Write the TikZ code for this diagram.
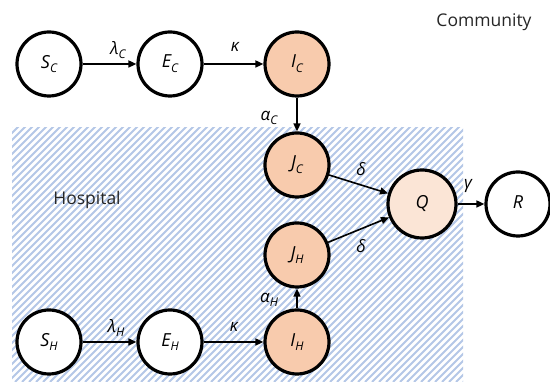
\documentclass[tikz,border=0pt]{standalone}
\usepackage{fontspec}
\setmainfont{Open Sans}
\usetikzlibrary{arrows.meta}
\definecolor{peach}{HTML}{F8CBAD}
\definecolor{qfill}{HTML}{FBE5D6}
\definecolor{hatch}{HTML}{B4C7E7}
\newcommand\sub[1]{\raisebox{-0.5ex}{\fontsize{12}{12}\selectfont\itshape #1}}
\newcommand\var[2]{{\fontsize{18}{18}\selectfont\itshape #1}\sub{#2}}
\tikzset{
  comp/.style={circle, draw=black, line width=3.2pt, minimum size=64pt, inner sep=0pt, fill=white, font=\fontsize{18}{18}\selectfont\itshape},
  inf/.style={comp, fill=peach},
  qst/.style={comp, fill=qfill, minimum size=68pt},
  flow/.style={line width=1.6pt, -{Triangle[length=8pt,width=7pt]}},
  lab/.style={font=\fontsize{17}{17}\selectfont\itshape, inner sep=0pt},
  region/.style={font=\fontsize{17.5}{17.5}\selectfont, text=black!85, inner sep=0pt}
}
\begin{document}
\begin{tikzpicture}[x=1pt,y=1pt]
\useasboundingbox (0,0) rectangle (550,382);
\fill[white] (0,0) rectangle (550,382);
\begin{scope}
  \clip (12,0) rectangle (463,254);
  \foreach \i in {-300,-293,...,480} {
    \draw[hatch, line width=1.8pt] (\i,0) -- ++(260,260);
  }
\end{scope}
\node[region] (community) at (484,360) {Community};
\node[region] (hospital) at (87,182) {Hospital};

\node[comp] (SC) at (49,318) {\var{S}{C}};
\node[comp] (EC) at (170,318) {\var{E}{C}};
\node[inf] (IC) at (297,318) {\var{I}{C}};
\node[inf] (JC) at (297,217) {\var{J}{C}};
\node[qst] (Q) at (422,178) {\var{Q}{}};
\node[comp] (R) at (518,178) {\var{R}{}};
\node[inf] (JH) at (297,127) {\var{J}{H}};
\node[inf] (IH) at (297,40) {\var{I}{H}};
\node[comp] (SH) at (49,40) {\var{S}{H}};
\node[comp] (EH) at (170,40) {\var{E}{H}};

\draw[flow] (SC) -- (EC);
\draw[flow] (EC) -- (IC);
\draw[flow] (IC) -- (JC);
\draw[flow] (JC) -- (Q);
\draw[flow] (JH) -- (Q);
\draw[flow] (Q) -- (R);
\draw[flow] (IH) -- (JH);
\draw[flow] (SH) -- (EH);
\draw[flow] (EH) -- (IH);

\node[lab] (lc) at (118,332) {λ\sub{C}};
\node[lab] (kc) at (235,335) {κ};
\node[lab] (ac) at (269,264) {α\sub{C}};
\node[lab] (d1) at (361,213) {δ};
\node[lab] (d2) at (361,136) {δ};
\node[lab] (g) at (468,196) {γ};
\node[lab] (ah) at (269,82) {α\sub{H}};
\node[lab] (lh) at (116,54) {λ\sub{H}};
\node[lab] (kh) at (234,55) {κ};
\end{tikzpicture}
\end{document}
